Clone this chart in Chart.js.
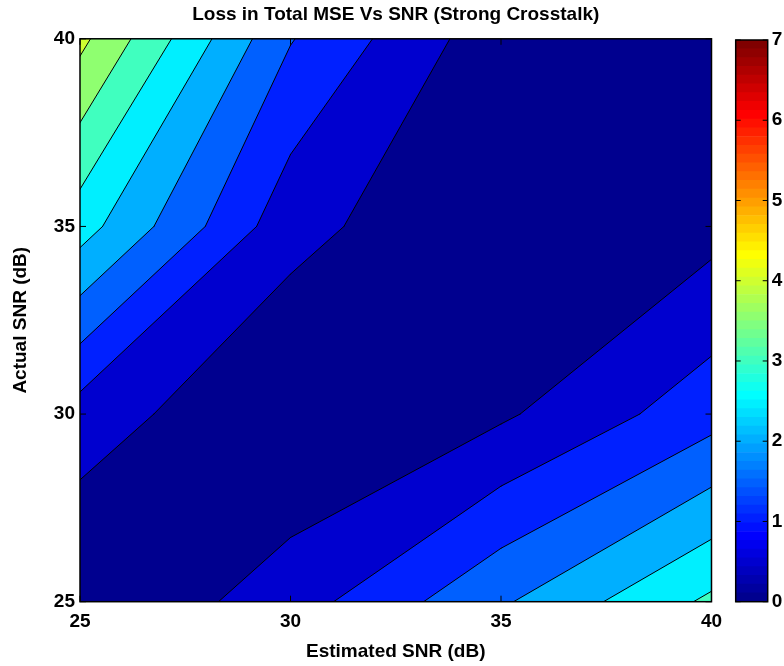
<!DOCTYPE html>
<html>
<head>
<meta charset="utf-8">
<script src="https://cdn.jsdelivr.net/npm/chart.js@4.4.1/dist/chart.umd.min.js"></script>
<style>
  html, body { margin: 0; padding: 0; background: #fff; }
  #wrap { position: relative; width: 784px; height: 666px; }
  #wrap > div { position: absolute; top: 0; height: 666px; }
</style>
</head>
<body>
<div id="wrap">
  <div style="left:0;width:784px"><canvas id="contour"></canvas></div>
  <div style="left:720px;width:64px"><canvas id="colorbar"></canvas></div>
</div>
<script>
// grid of the surface: columns = estimated SNR, rows = actual SNR
var estimatedSnr = [25, 30, 35, 40];
var actualSnr = [25, 30, 35, 40];
var lossActual25 = [0.00, 0.76, 1.93, 3.10];
var lossActual30 = [0.77, 0.00, 0.42, 1.30];
var lossActual35 = [2.72, 0.67, 0.00, 0.33];
var lossActual40 = [4.13, 1.53, 0.17, 0.00];
var lossGrid = [lossActual25, lossActual30, lossActual35, lossActual40];

var levels = [0.5, 1, 1.5, 2, 2.5, 3, 3.5, 4];
var colorMin = 0;
var colorMax = 7;
var colorbarTicks = [0, 1, 2, 3, 4, 5, 6, 7];

var FONT = '"Liberation Sans", Arial, Helvetica, sans-serif';
Chart.defaults.font.family = FONT;
Chart.defaults.color = '#000';

// matlab style jet colormap
function jet(m) {
  var n = Math.ceil(m / 4);
  var u = [];
  for (var i = 1; i <= n; i++) u.push(i / n);
  for (var i = 1; i < n; i++) u.push(1);
  for (var i = n; i >= 1; i--) u.push(i / n);
  var g0 = Math.ceil(n / 2) - (m % 4 === 1 ? 1 : 0);
  var map = [];
  for (var k = 0; k < m; k++) map.push([0, 0, 0]);
  for (var j = 0; j < u.length; j++) {
    var g = g0 + j + 1, r = g + n, b = g - n;
    if (g >= 1 && g <= m) map[g - 1][1] = u[j];
    if (r >= 1 && r <= m) map[r - 1][0] = u[j];
    if (b >= 1 && b <= m) map[b - 1][2] = u[j];
  }
  return map.map(function (c) {
    return 'rgb(' + c.map(function (v) { return Math.round(v * 255); }).join(',') + ')';
  });
}
var jetColors = jet(64);

function bandColor(v) {
  var idx = Math.floor((v - colorMin) / (colorMax - colorMin) * jetColors.length);
  return jetColors[Math.max(0, Math.min(jetColors.length - 1, idx))];
}

// pieces of one cell above level L (marching squares, saddle decided by the centre)
function cellPieces(i, j, L) {
  var c = [[i, j], [i + 1, j], [i + 1, j + 1], [i, j + 1]].map(function (p) {
    return { x: estimatedSnr[p[0]], y: actualSnr[p[1]], z: lossGrid[p[1]][p[0]] };
  });
  var ring = [];
  for (var k = 0; k < 4; k++) {
    var p = c[k], q = c[(k + 1) % 4];
    var pin = p.z >= L, qin = q.z >= L;
    if (pin) ring.push({ x: p.x, y: p.y });
    if (pin !== qin) {
      var t = (L - p.z) / (q.z - p.z);
      ring.push({ x: p.x + t * (q.x - p.x), y: p.y + t * (q.y - p.y), cross: pin ? 'exit' : 'enter' });
    }
  }
  var first = ring.findIndex(function (v) { return v.cross === 'enter'; });
  if (first < 0) return { polys: ring.length ? [ring] : [], segs: [] };
  ring = ring.slice(first).concat(ring.slice(0, first));
  var runs = [];
  ring.forEach(function (v) {
    if (v.cross === 'enter') runs.push([]);
    runs[runs.length - 1].push(v);
  });
  var last = function (r) { return r[r.length - 1]; };
  if (runs.length === 1) {
    return { polys: [runs[0]], segs: [[last(runs[0]), runs[0][0]]] };
  }
  var centre = (c[0].z + c[1].z + c[2].z + c[3].z) / 4;
  if (centre >= L) {
    return {
      polys: [runs[0].concat(runs[1])],
      segs: [[last(runs[0]), runs[1][0]], [last(runs[1]), runs[0][0]]]
    };
  }
  return {
    polys: runs,
    segs: runs.map(function (r) { return [last(r), r[0]]; })
  };
}

function eachCell(fn) {
  for (var j = 0; j < actualSnr.length - 1; j++)
    for (var i = 0; i < estimatedSnr.length - 1; i++) fn(i, j);
}

// contour lines as line datasets, one per level
var lineSets = levels.map(function (L) {
  var pts = [];
  eachCell(function (i, j) {
    cellPieces(i, j, L).segs.forEach(function (s) {
      pts.push({ x: s[0].x, y: s[0].y }, { x: s[1].x, y: s[1].y }, { x: null, y: null });
    });
  });
  return {
    label: 'level ' + L,
    data: pts,
    showLine: true,
    spanGaps: false,
    borderColor: '#000',
    borderWidth: 1,
    borderCapStyle: 'round',
    pointRadius: 0
  };
});

var contourFill = {
  id: 'contourFill',
  beforeDatasetsDraw: function (chart) {
    var ctx = chart.ctx, xs = chart.scales.x, ys = chart.scales.y;
    var px = function (v) { return [xs.getPixelForValue(v.x), ys.getPixelForValue(v.y)]; };
    ctx.save();
    // lowest band under everything
    var x0 = xs.getPixelForValue(estimatedSnr[0]), x1 = xs.getPixelForValue(estimatedSnr[estimatedSnr.length - 1]);
    var y0 = ys.getPixelForValue(actualSnr[0]), y1 = ys.getPixelForValue(actualSnr[actualSnr.length - 1]);
    ctx.fillStyle = bandColor(colorMin);
    ctx.fillRect(x0, y1, x1 - x0, y0 - y1);
    levels.forEach(function (L) {
      ctx.beginPath();
      eachCell(function (i, j) {
        cellPieces(i, j, L).polys.forEach(function (poly) {
          poly.forEach(function (v, n) {
            var p = px(v);
            if (n === 0) ctx.moveTo(p[0], p[1]); else ctx.lineTo(p[0], p[1]);
          });
          ctx.closePath();
        });
      });
      ctx.fillStyle = bandColor(L);
      ctx.fill();
    });
    ctx.restore();
  }
};

// box and inward tick marks
function framePlugin(len) {
  return {
    id: 'frame',
    afterDatasetsDraw: function (chart) {
      var ctx = chart.ctx, a = chart.chartArea;
      ctx.save();
      ctx.strokeStyle = '#000';
      ctx.lineWidth = 1;
      ctx.beginPath();
      var xs = chart.scales.x;
      if (xs.options.display) {
        xs.ticks.forEach(function (t) {
          var p = xs.getPixelForValue(t.value);
          ctx.moveTo(p, a.bottom); ctx.lineTo(p, a.bottom - len);
          ctx.moveTo(p, a.top); ctx.lineTo(p, a.top + len);
        });
      }
      var ys = chart.scales.y;
      ys.ticks.forEach(function (t) {
        var p = ys.getPixelForValue(t.value);
        ctx.moveTo(a.left, p); ctx.lineTo(a.left + len, p);
        ctx.moveTo(a.right, p); ctx.lineTo(a.right - len, p);
      });
      ctx.stroke();
      ctx.lineWidth = 1.5;
      ctx.strokeRect(a.left, a.top, a.right - a.left, a.bottom - a.top);
      ctx.restore();
    }
  };
}

var tickFont = { family: FONT, size: 19, weight: 'bold' };
var labelFont = { family: FONT, size: 19, weight: 'bold' };

new Chart(document.getElementById('contour'), {
  type: 'scatter',
  data: { datasets: lineSets },
  options: {
    responsive: true,
    maintainAspectRatio: false,
    animation: false,
    events: [],
    layout: { padding: { left: 0, right: 72.5, top: 0, bottom: 0 } },
    plugins: {
      legend: { display: false },
      tooltip: { enabled: false },
      title: {
        display: true,
        text: 'Loss in Total MSE Vs SNR (Strong Crosstalk)',
        fullSize: false,
        color: '#000',
        font: labelFont,
        padding: { top: 3, bottom: 13 }
      }
    },
    scales: {
      x: {
        type: 'linear',
        min: 25,
        max: 40,
        ticks: { stepSize: 5, color: '#000', font: tickFont, padding: 9, maxRotation: 0 },
        grid: { display: false, drawTicks: false },
        border: { display: false },
        title: {
          display: true,
          text: 'Estimated SNR (dB)',
          color: '#000',
          font: labelFont,
          padding: { top: 0, bottom: 3 }
        },
        afterFit: function (s) { s.height = 64.3; }
      },
      y: {
        type: 'linear',
        min: 25,
        max: 40,
        ticks: { stepSize: 5, color: '#000', font: tickFont, padding: 5 },
        grid: { display: false, drawTicks: false },
        border: { display: false },
        title: {
          display: true,
          text: 'Actual SNR (dB)',
          color: '#000',
          font: labelFont,
          padding: { top: 9, bottom: 0 }
        },
        afterFit: function (s) { s.width = 80; }
      }
    }
  },
  plugins: [contourFill, framePlugin(6)]
});

// colour bar: 64 stacked slices of the colormap
var barStep = (colorMax - colorMin) / jetColors.length;
new Chart(document.getElementById('colorbar'), {
  type: 'bar',
  data: {
    labels: [''],
    datasets: jetColors.map(function (c) {
      return { data: [barStep], backgroundColor: c, borderWidth: 0, barPercentage: 1, categoryPercentage: 1 };
    })
  },
  options: {
    responsive: true,
    maintainAspectRatio: false,
    animation: false,
    events: [],
    layout: { padding: { left: 15.7, right: 0, top: 40, bottom: 64.3 } },
    plugins: { legend: { display: false }, tooltip: { enabled: false } },
    scales: {
      x: { display: false, stacked: true },
      y: {
        stacked: true,
        position: 'right',
        min: colorMin,
        max: colorMax,
        afterBuildTicks: function (s) { s.ticks = colorbarTicks.map(function (v) { return { value: v }; }); },
        ticks: { color: '#000', font: tickFont, padding: 4 },
        grid: { display: false, drawTicks: false },
        border: { display: false },
        afterFit: function (s) { s.width = 16.3; }
      }
    }
  },
  plugins: [framePlugin(5)]
});
</script>
</body>
</html>
